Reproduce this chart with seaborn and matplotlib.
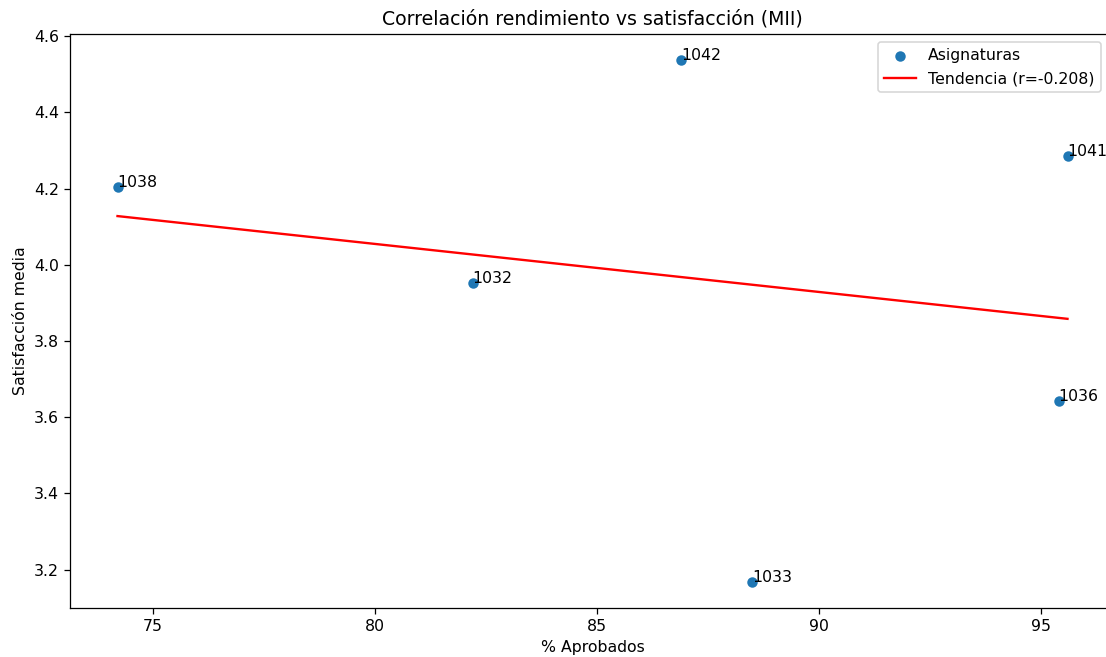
import numpy as np
import pandas as pd
import matplotlib
matplotlib.use("Agg")
import matplotlib.pyplot as plt
import seaborn as sns

# values
asignaturas = ["1038", "1032", "1042", "1033", "1036", "1041"]
aprobados = [74.2, 82.2, 86.9, 88.5, 95.4, 95.6]
satisfaccion = [4.204, 3.952, 4.537, 3.168, 3.643, 4.285]

df = pd.DataFrame({"asig": asignaturas, "aprob": aprobados, "satis": satisfaccion})

W, H, DPI = 1106, 657, 113.5
fig = plt.figure(figsize=(W / DPI, H / DPI), dpi=DPI)
# axes runs a little past the right edge, like the cropped reference
ax = fig.add_axes([70 / W, 49 / H, 1045 / W, 574 / H])

sns.scatterplot(data=df, x="aprob", y="satis", ax=ax, color="#1f77b4",
                s=44, linewidth=0, label="Asignaturas")

for _, row in df.iterrows():
    ax.annotate(row["asig"], (row["aprob"], row["satis"]))

# linear trend
slope, intercept = np.polyfit(df["aprob"], df["satis"], 1)
r = np.corrcoef(df["aprob"], df["satis"])[0, 1]
ax.plot(df["aprob"], slope * df["aprob"] + intercept, color="red",
        label=f"Tendencia (r={r:.3f})")

ax.set_title("Correlación rendimiento vs satisfacción (MII)")
ax.set_xlabel("% Aprobados")
ax.set_ylabel("Satisfacción media")
ax.legend(loc="upper right", bbox_to_anchor=(1101 / W, 1 - 42 / H),
          bbox_transform=fig.transFigure, borderaxespad=0)

fig.savefig("out.png", dpi=DPI)
